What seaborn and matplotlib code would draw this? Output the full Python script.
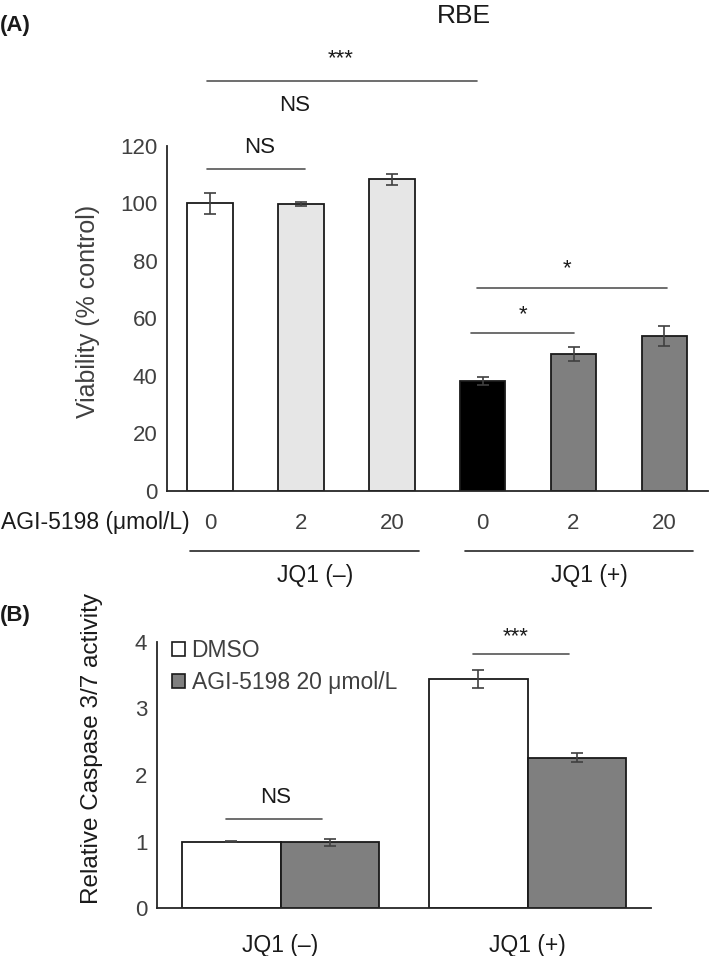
import matplotlib
matplotlib.use("Agg")
import matplotlib.pyplot as plt
from matplotlib.patches import Patch
import seaborn as sns
import pandas as pd
import numpy as np

# ---------------- data ----------------
a_ids = ["m0", "m2", "m20", "p0", "p2", "p20"]
a_dose_labels = ["0", "2", "20", "0", "2", "20"]
a_values = [100.0, 99.8, 108.5, 38.3, 47.7, 53.9]
a_errors = [3.5, 0.6, 1.9, 1.4, 2.5, 3.6]
a_colors = ["#ffffff", "#e6e6e6", "#e6e6e6", "#000000", "#7f7f7f", "#7f7f7f"]
a_groups = ["JQ1 (–)", "JQ1 (+)"]

b_groups = ["JQ1 (–)", "JQ1 (+)"]
b_treat = ["DMSO", "AGI-5198 20 μmol/L"]
b_dmso = [1.0, 3.44]
b_dmso_err = [0.01, 0.135]
b_agi = [0.985, 2.26]
b_agi_err = [0.06, 0.07]
b_colors = ["#ffffff", "#7f7f7f"]

sns.set_theme(style="white")
plt.rcParams["font.family"] = ["Liberation Sans", "DejaVu Sans"]
TXT = "#404040"
BLK = "#1a1a1a"
LINE = "#555555"

fig = plt.figure(figsize=(7.09, 9.56), dpi=100)

# ---------------- Panel A ----------------
axA = fig.add_axes([167/709, 1-491/956, (708-167)/709, (491-146)/956])
dfA = pd.DataFrame({"cond": a_ids, "val": a_values})
sns.barplot(data=dfA, x="cond", y="val", hue="cond", palette=a_colors, width=0.5,
            edgecolor=BLK, linewidth=1.3, errorbar=None, legend=False, ax=axA)
axA.errorbar(np.arange(len(a_values)), a_values, yerr=a_errors, fmt="none",
             ecolor="#404040", elinewidth=1.2, capsize=4, capthick=1.2)
axA.set_ylim(0, 120)
axA.set_xlim(-0.475, 5.48)
axA.set_yticks([0, 20, 40, 60, 80, 100, 120])
axA.set_xticks(range(6))
axA.set_xticklabels(a_dose_labels)
axA.tick_params(axis="both", length=0, labelsize=16, colors=TXT)
axA.tick_params(axis="x", pad=16)
axA.tick_params(axis="y", pad=7)
for s in ["top", "right"]:
    axA.spines[s].set_visible(False)
for s in ["left", "bottom"]:
    axA.spines[s].set_color("#262626")
    axA.spines[s].set_linewidth(1.3)
axA.set_xlabel("")
axA.set_ylabel("Viability (% control)", fontsize=18, color=TXT)
axA.yaxis.set_label_coords((100-167)/541, 0.52)

# significance marks
axA.plot([-0.03, 2.94], [142.7, 142.7], color=LINE, lw=1.2, clip_on=False)
axA.text(1.44, 148.5, "***", ha="center", va="baseline", fontsize=16, color=BLK)
axA.text(0.93, 134, "NS", ha="center", va="center", fontsize=16, color=BLK)
axA.plot([-0.03, 1.04], [112, 112], color=LINE, lw=1.2)
axA.text(0.54, 119.6, "NS", ha="center", va="center", fontsize=16, color=BLK, clip_on=False)
axA.plot([2.94, 5.03], [70.5, 70.5], color=LINE, lw=1.2)
axA.text(3.93, 75.5, "*", ha="center", va="baseline", fontsize=16, color=BLK)
axA.plot([2.87, 4.0], [54.8, 54.8], color=LINE, lw=1.2)
axA.text(3.44, 59.5, "*", ha="center", va="baseline", fontsize=16, color=BLK)

# group lines and labels under axis
for (x0, x1), g in zip([(-0.22, 2.30), (2.80, 5.31)], a_groups):
    axA.plot([x0, x1], [-20.9, -20.9], color="#262626", lw=1.2, clip_on=False)
    axA.text((x0+x1)/2 + 0.12, -29.3, g, ha="center", va="center", fontsize=16.5,
             color=BLK, clip_on=False)
fig.text(0.002, 1-523/956, "AGI-5198 (μmol/L)", ha="left", va="center",
         fontsize=16.5, color=BLK)
fig.text(464/709, 1-16/956, "RBE", ha="center", va="center", fontsize=19, color=BLK)
fig.text(0.0, 1-26/956, "(A)", ha="left", va="center", fontsize=16,
         fontweight="bold", color=BLK)

# ---------------- Panel B ----------------
axB = fig.add_axes([157/709, 1-908/956, (651-157)/709, (908-642)/956])
dfB = pd.DataFrame({
    "group": b_groups * 2,
    "treat": [b_treat[0]] * 2 + [b_treat[1]] * 2,
    "val": b_dmso + b_agi,
})
sns.barplot(data=dfB, x="group", y="val", hue="treat", hue_order=b_treat,
            palette=b_colors, width=0.8, edgecolor=BLK, linewidth=1.3,
            errorbar=None, ax=axB)
pos = np.arange(len(b_groups))
axB.errorbar(pos - 0.2, b_dmso, yerr=b_dmso_err, fmt="none", ecolor="#404040",
             elinewidth=1.2, capsize=4, capthick=1.2)
axB.errorbar(pos + 0.2, b_agi, yerr=b_agi_err, fmt="none", ecolor="#404040",
             elinewidth=1.2, capsize=4, capthick=1.2)
axB.set_ylim(0, 4)
axB.set_xlim(-0.5, 1.5)
axB.set_yticks([0, 1, 2, 3, 4])
axB.tick_params(axis="both", length=0, labelsize=16, colors=TXT)
axB.tick_params(axis="x", pad=19, labelsize=16.5)
axB.tick_params(axis="y", pad=7)
for lab in axB.get_xticklabels():
    lab.set_color(BLK)
for s in ["top", "right"]:
    axB.spines[s].set_visible(False)
for s in ["left", "bottom"]:
    axB.spines[s].set_color("#262626")
    axB.spines[s].set_linewidth(1.3)
axB.set_xlabel("")
axB.set_ylabel("Relative Caspase 3/7 activity", fontsize=17.5, color=BLK)
axB.yaxis.set_label_coords((103-157)/494, 0.6)

axB.plot([-0.22, 0.17], [1.34, 1.34], color=LINE, lw=1.2)
axB.text(-0.02, 1.66, "NS", ha="center", va="center", fontsize=16, color=BLK)
axB.plot([0.78, 1.17], [3.82, 3.82], color=LINE, lw=1.2, clip_on=False)
axB.text(0.95, 3.99, "***", ha="center", va="baseline", fontsize=16, color=BLK, clip_on=False)

handles = [Patch(facecolor=c, edgecolor=BLK, linewidth=1.2) for c in b_colors]
leg = axB.legend(handles, b_treat, loc="upper left", bbox_to_anchor=(0.012, 1.045),
                 frameon=False, handlelength=0.57, handleheight=0.57,
                 handletextpad=0.28, labelspacing=0.4, borderaxespad=0,
                 prop={"size": 16.5})
for t in leg.get_texts():
    t.set_color(TXT)
fig.text(0.0, 1-616/956, "(B)", ha="left", va="center", fontsize=16,
         fontweight="bold", color=BLK)

fig.savefig("out.png", dpi=100)
